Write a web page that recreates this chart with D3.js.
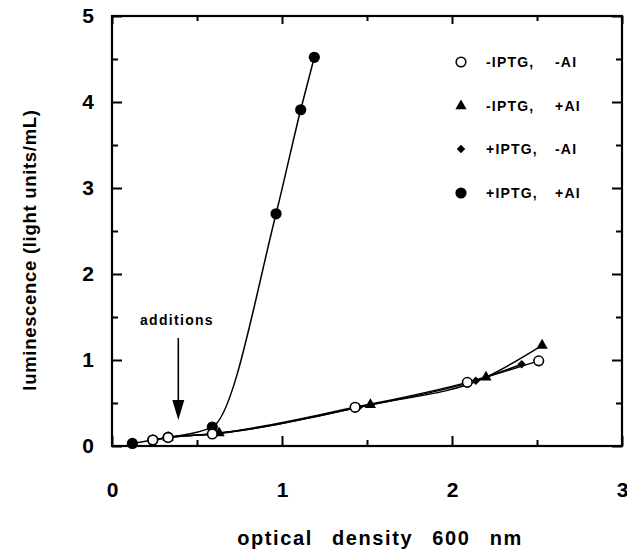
<!DOCTYPE html>
<html>
<head>
<meta charset="utf-8">
<script src="https://cdn.jsdelivr.net/npm/d3@7"></script>
<style>
  body { margin: 0; background: #fff; }
  text { font-family: "Liberation Sans", Arial, sans-serif; font-weight: bold; fill: #000; }
</style>
</head>
<body>
<div id="chart"></div>
<script>
// series: [optical density, luminescence]
const minusIPTG_minusAI = [[0.24, 0.07], [0.33, 0.10], [0.59, 0.14], [1.43, 0.45], [2.09, 0.74], [2.51, 0.99]];
const minusIPTG_plusAI  = [[0.33, 0.10], [0.63, 0.15], [1.52, 0.48], [2.20, 0.80], [2.53, 1.17]];
const plusIPTG_minusAI  = [[0.24, 0.07], [0.33, 0.10], [0.60, 0.14], [1.45, 0.45], [2.14, 0.76], [2.41, 0.95]];
const plusIPTG_plusAI   = [[0.12, 0.03], [0.24, 0.07], [0.33, 0.10], [0.59, 0.22], [0.965, 2.70], [1.11, 3.91], [1.19, 4.52]];

const legendLabels = [["-IPTG,", "-AI"], ["-IPTG,", "+AI"], ["+IPTG,", "-AI"], ["+IPTG,", "+AI"]];
const xTicks = [0, 1, 2, 3];
const yTicks = [0, 1, 2, 3, 4, 5];
const xMinor = [0.5, 1.5, 2.5];
const yMinor = [0.5, 1.5, 2.5, 3.5, 4.5];

const width = 627, height = 553;
const svg = d3.select("#chart").append("svg")
  .attr("width", width).attr("height", height);

const x = d3.scaleLinear().domain([0, 3]).range([112, 622]);
const y = d3.scaleLinear().domain([0, 5]).range([446, 16]);

// frame
svg.append("rect")
  .attr("x", x(0)).attr("y", y(5))
  .attr("width", x(3) - x(0)).attr("height", y(0) - y(5))
  .attr("fill", "none").attr("stroke", "#000").attr("stroke-width", 2.2);

// inward ticks on all four sides
function ticks(axisFn, pos, values, size, labels, pad) {
  const g = svg.append("g").attr("transform", pos)
    .call(axisFn.tickValues(values).tickSize(-size).tickPadding(pad)
      .tickFormat(labels ? d3.format("d") : ""));
  g.select(".domain").remove();
  g.selectAll("line").attr("stroke", "#000").attr("stroke-width", 2);
  g.selectAll("text").style("font-size", "21px").style("font-weight", "bold")
    .style("font-family", "Liberation Sans, Arial, sans-serif");
  return g;
}
ticks(d3.axisBottom(x), `translate(0,${y(0)})`, xTicks, 10, true, 36);
ticks(d3.axisBottom(x), `translate(0,${y(0)})`, xMinor, 6, false, 0);
ticks(d3.axisTop(x), `translate(0,${y(5)})`, xTicks, 8, false, 0);
ticks(d3.axisTop(x), `translate(0,${y(5)})`, xMinor, 5, false, 0);
ticks(d3.axisLeft(y), `translate(${x(0)},0)`, yTicks, 10, true, 18);
ticks(d3.axisLeft(y), `translate(${x(0)},0)`, yMinor, 6, false, 0);
ticks(d3.axisRight(y), `translate(${x(3)},0)`, yTicks, 10, false, 0);
ticks(d3.axisRight(y), `translate(${x(3)},0)`, yMinor, 6, false, 0);

// axis titles
svg.append("text")
  .attr("x", 380).attr("y", 545)
  .attr("text-anchor", "middle")
  .style("font-size", "20px").style("letter-spacing", "1.6px").style("word-spacing", "12px")
  .text("optical density 600 nm");
svg.append("text")
  .attr("transform", `translate(36,250) rotate(-90)`)
  .attr("text-anchor", "middle")
  .style("font-size", "18.5px").style("letter-spacing", "0.7px")
  .text("luminescence (light units/mL)");

// lines
const line = d3.line()
  .x(d => x(d[0])).y(d => y(d[1]))
  .curve(d3.curveMonotoneX);
const series = [minusIPTG_minusAI, minusIPTG_plusAI, plusIPTG_minusAI, plusIPTG_plusAI];
series.forEach(s => {
  svg.append("path").datum(s)
    .attr("d", line)
    .attr("fill", "none").attr("stroke", "#000").attr("stroke-width", 1.5);
});

// markers
const triangle = d3.symbol().type(d3.symbolTriangle).size(55);
const diamond = d3.symbol().type(d3.symbolSquare).size(36);
function drawMarker(g, kind, cx, cy) {
  if (kind === 0) {
    g.append("circle").attr("cx", cx).attr("cy", cy).attr("r", 4.8)
      .attr("fill", "#fff").attr("stroke", "#000").attr("stroke-width", 1.6);
  } else if (kind === 1) {
    g.append("path").attr("d", triangle).attr("transform", `translate(${cx},${cy})`).attr("fill", "#000");
  } else if (kind === 2) {
    g.append("path").attr("d", diamond).attr("transform", `translate(${cx},${cy}) rotate(45)`).attr("fill", "#000");
  } else {
    g.append("circle").attr("cx", cx).attr("cy", cy).attr("r", 5.6).attr("fill", "#000");
  }
}
const markG = svg.append("g");
[2, 1, 3, 0].forEach(k => {
  series[k].forEach(d => drawMarker(markG, k, x(d[0]), y(d[1])));
});

// legend
const legendY = [62, 106, 149, 193];
legendLabels.forEach((lab, i) => {
  drawMarker(svg, i, 461, legendY[i]);
  svg.append("text").attr("x", 486).attr("y", legendY[i] + 5)
    .style("font-size", "14px").style("letter-spacing", "1.2px").text(lab[0]);
  svg.append("text").attr("x", 555).attr("y", legendY[i] + 5)
    .style("font-size", "14px").style("letter-spacing", "1.2px").text(lab[1]);
});

// "additions" annotation with arrow
svg.append("text").attr("x", 140).attr("y", 325)
  .style("font-size", "14px").style("letter-spacing", "1.3px").text("additions");
const ax = x(0.39);
svg.append("line").attr("x1", ax).attr("x2", ax).attr("y1", 338).attr("y2", 404)
  .attr("stroke", "#000").attr("stroke-width", 1.6);
svg.append("path")
  .attr("d", `M${ax - 6},${400} L${ax + 6},${400} L${ax},${420} Z`)
  .attr("fill", "#000");
</script>
</body>
</html>
